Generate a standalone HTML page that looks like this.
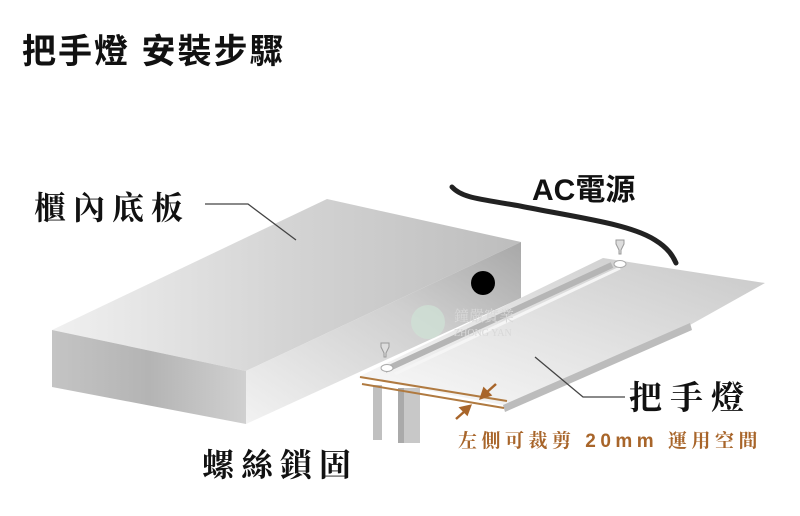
<!DOCTYPE html>
<html><head><meta charset="utf-8"><style>
html,body{margin:0;padding:0;background:#fff;}
svg{display:block;}
</style></head><body>
<svg width="800" height="516" viewBox="0 0 800 516" xmlns="http://www.w3.org/2000/svg">
<defs>
<linearGradient id="top" x1="0" y1="0" x2="1" y2="0">
<stop offset="0" stop-color="#f0f0f0"/><stop offset="0.5" stop-color="#d4d4d4"/><stop offset="1" stop-color="#bdbdbd"/>
</linearGradient>
<linearGradient id="front" x1="0" y1="0" x2="1" y2="0">
<stop offset="0" stop-color="#c4c4c4"/><stop offset="0.5" stop-color="#b4b4b4"/><stop offset="1" stop-color="#d0d0d0"/>
</linearGradient>
<linearGradient id="side" x1="0" y1="1" x2="1" y2="0">
<stop offset="0" stop-color="#f2f2f2"/><stop offset="0.6" stop-color="#cfcfcf"/><stop offset="1" stop-color="#a8a8a8"/>
</linearGradient>
<linearGradient id="plate" x1="0" y1="1" x2="1" y2="0">
<stop offset="0" stop-color="#fafafa"/><stop offset="0.5" stop-color="#e2e2e2"/><stop offset="1" stop-color="#c8c8c8"/>
</linearGradient>
</defs>
<text x="22" y="63" font-family="'Liberation Sans','Noto Sans CJK TC',sans-serif" font-size="34" font-weight="bold" fill="#111" letter-spacing="2">把手燈 安裝步驟</text>

<!-- box -->
<polygon points="52,330 327,199 521,242 246,371" fill="url(#top)"/>
<polygon points="52,330 246,371 246,424 52,387" fill="url(#front)"/>
<polygon points="246,371 521,242 521,298 246,424" fill="url(#side)"/>
<circle cx="483" cy="283" r="12" fill="#000"/>

<!-- cable -->
<path d="M452,187 C462,198 480,199 520,206 C580,218 630,224 655,240 C668,248 673,256 676,263" stroke="#222" stroke-width="5" fill="none" stroke-linecap="round"/>

<!-- fixture plate -->
<polygon points="603,258 765,283 690,325 503,405 358,377" fill="url(#plate)"/>
<polygon points="690,323 692,330 505,412 503,405" fill="#bcbcbc"/>
<line x1="612" y1="265" x2="385" y2="370" stroke="#b5b5b5" stroke-width="6"/>
<line x1="620" y1="268" x2="395" y2="374" stroke="#f5f5f5" stroke-width="3"/>
<rect x="373" y="385" width="9" height="55" fill="#c0c0c0"/>
<rect x="398" y="388" width="22" height="55" fill="#c8c8c8"/>
<rect x="398" y="388" width="6" height="55" fill="#aaa"/>
<!-- screws -->
<g fill="#ddd" stroke="#999" stroke-width="1">
<path d="M616,240 h8 v4 l-3,6 v4 h-2 v-4 l-3,-6z"/>
<path d="M381,343 h8 v4 l-3,6 v4 h-2 v-4 l-3,-6z"/>
</g>
<ellipse cx="620" cy="264" rx="6" ry="3.5" fill="#fff" stroke="#aaa"/>
<ellipse cx="387" cy="368" rx="6" ry="3.5" fill="#fff" stroke="#aaa"/>
<!-- cut lines -->
<line x1="360" y1="377" x2="507" y2="401" stroke="#b07a40" stroke-width="2"/>
<line x1="362" y1="384" x2="504" y2="408" stroke="#b07a40" stroke-width="2"/>
<g stroke="#a8652a" stroke-width="2.5" fill="#a8652a">
<line x1="496" y1="384" x2="486" y2="393"/><polygon points="481,398 484,389 490,395"/>
<line x1="456" y1="419" x2="465" y2="411"/><polygon points="470,406 461,408 467,414"/>
</g>

<!-- watermark -->
<circle cx="428" cy="322" r="17" fill="#cfe3d6" opacity="0.7"/>
<text x="454" y="321" font-family="'Liberation Serif','Noto Serif CJK SC',serif" font-size="15" fill="#d8d8d8">鐘嚴實業</text>
<text x="454" y="336" font-family="'Liberation Serif',serif" font-size="10" fill="#d8d8d8">ZHONG YAN</text>

<!-- leaders -->
<polyline points="205,204 248,204 296,240" stroke="#444" stroke-width="1.3" fill="none"/>
<polyline points="535,357 583,397 625,397" stroke="#444" stroke-width="1.3" fill="none"/>

<!-- labels -->
<text x="34" y="219" font-family="'Liberation Sans','Noto Serif CJK SC',serif" font-size="32" font-weight="bold" fill="#111" letter-spacing="7">櫃內底板</text>
<text x="532" y="200" font-family="'Liberation Sans','Noto Sans CJK TC',sans-serif" font-size="30" font-weight="bold" fill="#111">AC電源</text>
<text x="629" y="409" font-family="'Liberation Sans','Noto Serif CJK SC',serif" font-size="33" font-weight="bold" fill="#111" letter-spacing="8">把手燈</text>
<text x="202" y="476" font-family="'Liberation Sans','Noto Serif CJK SC',serif" font-size="32" font-weight="bold" fill="#111" letter-spacing="7">螺絲鎖固</text>
<text x="458" y="447" font-family="'Liberation Sans','Noto Serif CJK SC',serif" font-size="19" font-weight="bold" fill="#a8652a" letter-spacing="4.5">左側可裁剪 20mm 運用空間</text>
</svg>
</body></html>
